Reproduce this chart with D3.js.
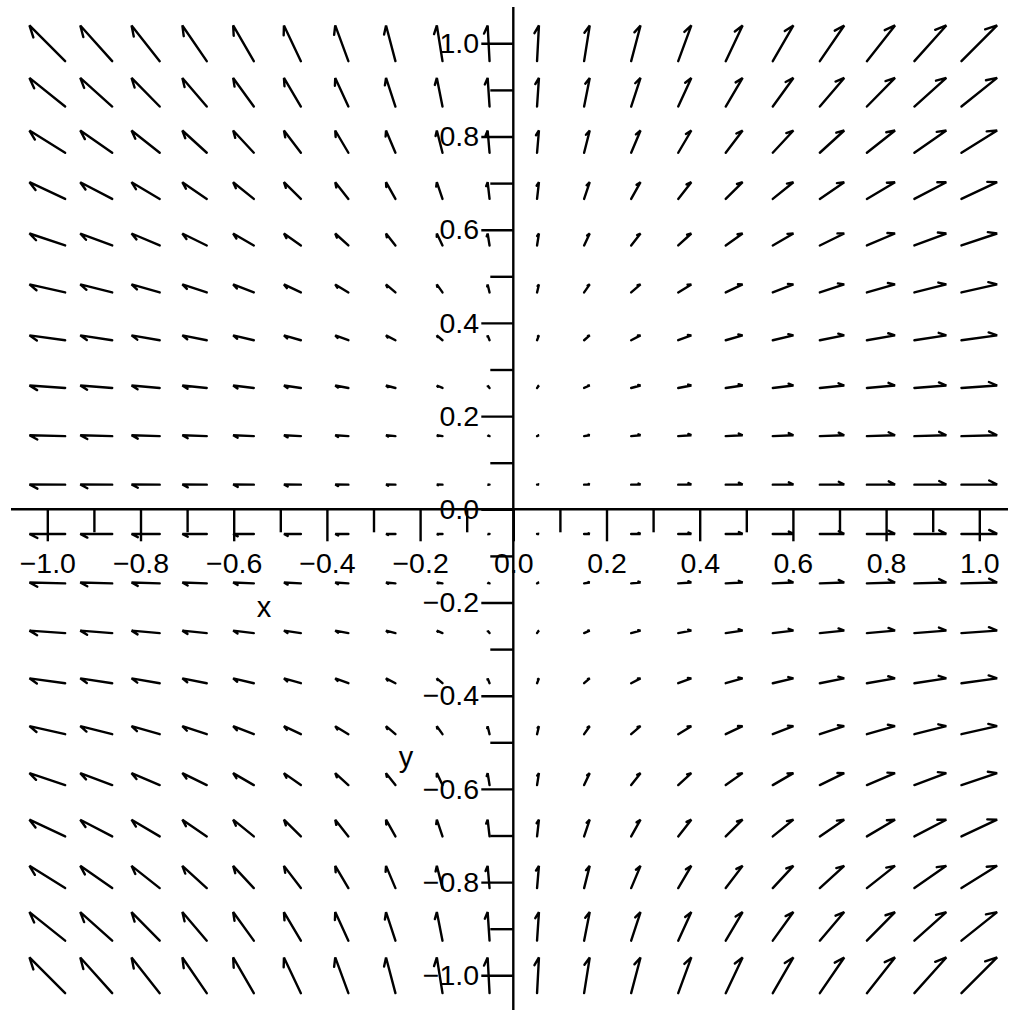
<!DOCTYPE html>
<html>
<head>
<meta charset="utf-8">
<script src="https://cdn.jsdelivr.net/npm/d3@7"></script>
<style>
  body { margin: 0; background: #fff; }
  text { font-family: "Liberation Sans", Arial, sans-serif; fill: #000; }
</style>
</head>
<body>
<div class="chart"></div>
<script>
var svgWidth = 1015;
var svgHeight = 1012;

// grid positions of the arrows (20 x 20)
var gridX = [-1.000, -0.895, -0.789, -0.684, -0.579, -0.474, -0.368, -0.263, -0.158, -0.053,
              0.053,  0.158,  0.263,  0.368,  0.474,  0.579,  0.684,  0.789,  0.895,  1.000];
var gridY = [-1.000, -0.895, -0.789, -0.684, -0.579, -0.474, -0.368, -0.263, -0.158, -0.053,
              0.053,  0.158,  0.263,  0.368,  0.474,  0.579,  0.684,  0.789,  0.895,  1.000];

// horizontal component of the arrows in each column, vertical component in each row
var colU = [-1.000, -0.895, -0.789, -0.684, -0.579, -0.474, -0.368, -0.263, -0.158, -0.053,
             0.053,  0.158,  0.263,  0.368,  0.474,  0.579,  0.684,  0.789,  0.895,  1.000];
var rowV = [1.000, 0.801, 0.623, 0.468, 0.335, 0.224, 0.136, 0.069, 0.025, 0.003,
            0.003, 0.025, 0.069, 0.136, 0.224, 0.335, 0.468, 0.623, 0.801, 1.000];

// tick labels
var majorTicks = [-1.0, -0.8, -0.6, -0.4, -0.2, 0.0, 0.2, 0.4, 0.6, 0.8, 1.0];
var minorTicks = [-0.9, -0.7, -0.5, -0.3, -0.1, 0.1, 0.3, 0.5, 0.7, 0.9];

var svg = d3.select(".chart")
  .append("svg")
  .attr("width", svgWidth)
  .attr("height", svgHeight);

var x = d3.scaleLinear().domain([-1, 1]).range([47.3, 979.3]);
var y = d3.scaleLinear().domain([-1, 1]).range([975.3, 43.3]);

var fmt = d3.format(".1f");
var lineW = 2.4;

// axis lines
svg.append("line")
  .attr("x1", 11).attr("x2", 1008)
  .attr("y1", y(0)).attr("y2", y(0))
  .attr("stroke", "#000").attr("stroke-width", lineW);
svg.append("line")
  .attr("x1", x(0)).attr("x2", x(0))
  .attr("y1", 7).attr("y2", 1010)
  .attr("stroke", "#000").attr("stroke-width", lineW);

// x axis ticks
var xMajor = d3.axisBottom(x).tickValues(majorTicks).tickFormat(fmt)
  .tickSize(32).tickSizeOuter(0).tickPadding(11.8);
var xMinor = d3.axisBottom(x).tickValues(minorTicks).tickFormat("")
  .tickSize(23).tickSizeOuter(0);

svg.append("g").attr("transform", `translate(0, ${y(0)})`).call(xMajor);
svg.append("g").attr("transform", `translate(0, ${y(0)})`).call(xMinor);

// y axis ticks
var yMajor = d3.axisLeft(y).tickValues(majorTicks).tickFormat(fmt)
  .tickSize(32).tickSizeOuter(0).tickPadding(2.3);
var yMinor = d3.axisLeft(y).tickValues(minorTicks).tickFormat("")
  .tickSize(23).tickSizeOuter(0);

svg.append("g").attr("transform", `translate(${x(0)}, 0)`).call(yMajor);
svg.append("g").attr("transform", `translate(${x(0)}, 0)`).call(yMinor);

svg.selectAll(".domain").remove();
svg.selectAll(".tick line").attr("stroke", "#000").attr("stroke-width", lineW);
svg.selectAll(".tick text")
  .attr("font-family", "Liberation Sans, Arial, sans-serif")
  .attr("font-size", 28.5)
  .attr("fill", "#000");

// axis titles
svg.append("text")
  .attr("x", 264).attr("y", 617)
  .attr("text-anchor", "middle")
  .attr("font-size", 29)
  .text("x");
svg.append("text")
  .attr("x", 406).attr("y", 767)
  .attr("text-anchor", "middle")
  .attr("font-size", 29)
  .text("y");

// arrows
var scale = 0.0766;          // arrow length in data units per unit of vector
var headRatio = 0.25;
var headAngle = 27 * Math.PI / 180;

var cells = [];
gridY.forEach(function(gy, j) {
  gridX.forEach(function(gx, i) {
    cells.push({ cx: gx, cy: gy, u: colU[i], v: rowV[j] });
  });
});

function arrowPath(d) {
  var x0 = x(d.cx - d.u * scale / 2), y0 = y(d.cy - d.v * scale / 2);
  var x1 = x(d.cx + d.u * scale / 2), y1 = y(d.cy + d.v * scale / 2);
  var dx = x0 - x1, dy = y0 - y1;
  var len = Math.sqrt(dx * dx + dy * dy);
  var p = `M${x0},${y0}L${x1},${y1}`;
  if (len > 0.5) {
    var bx = dx / len, by = dy / len;
    var rx = bx * Math.cos(headAngle) - by * Math.sin(headAngle);
    var ry = bx * Math.sin(headAngle) + by * Math.cos(headAngle);
    var h = len * headRatio;
    p += `L${x1 + rx * h},${y1 + ry * h}`;
  }
  return p;
}

svg.append("g")
  .selectAll("path")
  .data(cells)
  .join("path")
  .attr("d", arrowPath)
  .attr("fill", "none")
  .attr("stroke", "#000")
  .attr("stroke-width", lineW)
  .attr("stroke-linecap", "round")
  .attr("stroke-linejoin", "miter");
</script>
</body>
</html>
